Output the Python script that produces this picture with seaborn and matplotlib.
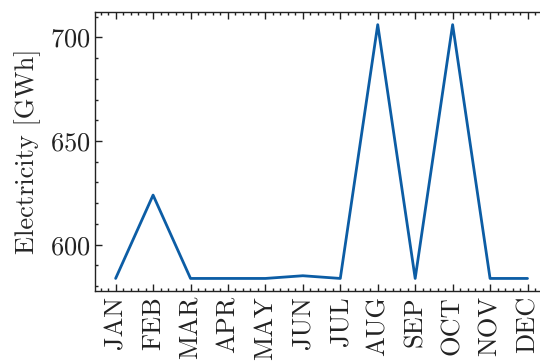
import matplotlib
matplotlib.use("Agg")
import matplotlib.pyplot as plt
import seaborn as sns
import pandas as pd
from matplotlib.ticker import AutoMinorLocator, FixedLocator

months = ["JAN", "FEB", "MAR", "APR", "MAY", "JUN",
          "JUL", "AUG", "SEP", "OCT", "NOV", "DEC"]
electricity = [583.7, 623.9, 583.7, 583.7, 583.7, 585.0,
               583.7, 706.1, 583.7, 706.1, 583.7, 583.7]

df = pd.DataFrame({"idx": range(len(months)), "month": months,
                   "electricity": electricity})

sns.set_theme(style="ticks")
plt.rcParams.update({
    "font.family": "serif",
    "font.serif": ["cmr10"],
    "mathtext.fontset": "cm",
    "axes.formatter.use_mathtext": True,
    "font.size": 19,
    "axes.linewidth": 1.0,
    "xtick.direction": "in",
    "ytick.direction": "in",
    "xtick.top": True,
    "ytick.right": True,
    "xtick.major.size": 5,
    "ytick.major.size": 5,
    "xtick.minor.size": 2.5,
    "ytick.minor.size": 2.5,
    "xtick.major.width": 1.0,
    "ytick.major.width": 1.0,
    "xtick.minor.width": 1.0,
    "ytick.minor.width": 1.0,
    "xtick.color": "#222222",
    "ytick.color": "#222222",
})

fig = plt.figure(figsize=(5.40, 3.63), dpi=100)
# axes run slightly past the right edge of the canvas
ax = fig.add_axes([0.176, 0.198, 0.839, 0.769])

sns.lineplot(data=df, x="idx", y="electricity", color="#0C5DA5",
             linewidth=2.0, ax=ax)

ax.xaxis.set_major_locator(FixedLocator(df["idx"].tolist()))
ax.set_xticklabels(months, rotation=90, fontsize=19)
ax.xaxis.set_minor_locator(AutoMinorLocator(5))
ax.yaxis.set_minor_locator(AutoMinorLocator(5))
ax.set_yticks([600, 650, 700])
ax.tick_params(axis="y", labelsize=19)
ax.tick_params(which="both", top=True, right=True)
ax.set_xlabel("")
ax.set_ylabel("Electricity [GWh]", fontsize=19, labelpad=6)
ax.margins(x=0.05, y=0.05)
for s in ax.spines.values():
    s.set_color("#222222")

fig.savefig("out.png", dpi=100)
